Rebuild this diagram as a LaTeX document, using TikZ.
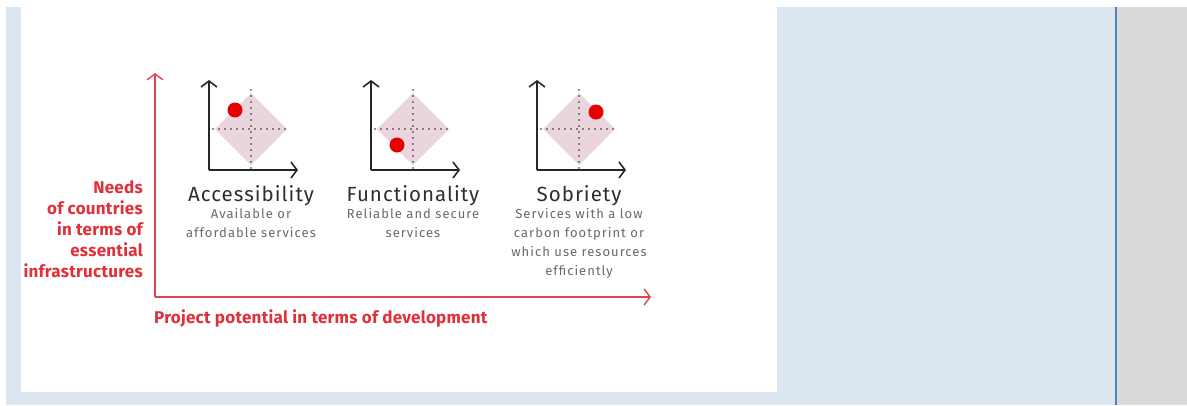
\documentclass[tikz,border=0pt]{standalone}
\usepackage{fontspec}
\setmainfont{Fira Sans}
\newfontfamily\labelfont{Fira Sans Bold}[LetterSpace=1.5]
\newfontfamily\titlefont{Fira Sans}[LetterSpace=5]
\newfontfamily\notefont{Fira Sans}[LetterSpace=8]
\usetikzlibrary{arrows.meta,calc}

\definecolor{pageblue}{HTML}{DCE6F1}
\definecolor{rulerblue}{HTML}{4F81BD}
\definecolor{sidegray}{HTML}{D9D9D9}
\definecolor{axisred}{HTML}{E2434F}
\definecolor{labelred}{HTML}{E0303A}
\definecolor{dotred}{HTML}{E60000}
\definecolor{zonepink}{HTML}{EAD5DF}
\definecolor{titlegray}{HTML}{2E2E2E}
\definecolor{subgray}{HTML}{6A6A6A}

\tikzset{
  mainaxis/.style={draw=axisred, line width=1.4pt,
    -{Straight Barb[length=6pt, width=16pt, line width=1.4pt]}},
  miniaxis/.style={draw=black!85, line width=1.6pt,
    -{Straight Barb[length=6pt, width=16pt, line width=1.6pt]}},
  guide/.style={draw=black!85, line width=1.7pt, line cap=round,
    dash pattern=on 0pt off 6pt},
  zone/.style={fill=zonepink},
  marker/.style={fill=dotred},
  sidelabel/.style={text=labelred, font=\labelfont\fontsize{17}{21}\selectfont,
    align=right, inner sep=0pt},
  baselabel/.style={text=labelred, font=\labelfont\fontsize{17}{18}\selectfont,
    inner sep=0pt, anchor=base west},
  charttitle/.style={text=titlegray, font=\titlefont\fontsize{20.5}{22}\selectfont,
    inner sep=0pt, anchor=base},
  chartnote/.style={text=subgray, font=\notefont\fontsize{13}{19}\selectfont,
    align=center, inner sep=0pt, anchor=north},
}

% one small chart: #1 = name, #2 = origin x, #3 = origin y, #4/#5 = marker offset
\newcommand{\minichart}[5]{%
  \coordinate (#1o) at (#2,#3);
  \coordinate (#1y) at (#2,#3-90);
  \coordinate (#1x) at (#2+89,#3);
  \coordinate (#1c) at (#2+42,#3-41);
  \fill[zone] ($(#1c)+(0,-36)$) -- ($(#1c)+(36,0)$) -- ($(#1c)+(0,36)$) -- ($(#1c)+(-36,0)$) -- cycle;
  \draw[guide] ($(#1c)+(0,-39)$) -- ($(#1c)+(0,39)$);
  \draw[guide] ($(#1c)+(-38,0)$) -- ($(#1c)+(38,0)$);
  \node[marker, circle, minimum size=15pt, inner sep=0pt] (#1dot) at ($(#1o)+(#4,#5)$) {};
  \draw[miniaxis] (#1o) -- (#1y);
  \draw[miniaxis] (#1o) -- (#1x);
}

\begin{document}
\begin{tikzpicture}[x=1pt, y=-1pt]
  \useasboundingbox (0,0) rectangle (1187,405);
  % page backdrop
  \fill[white] (0,0) rectangle (1187,405);
  \fill[pageblue] (6,7) rectangle (1117,405);
  \fill[white] (21,7) rectangle (777,392);
  \fill[sidegray] (1117,7) rectangle (1187,405);
  \draw[rulerblue, line width=2pt] (1116,7) -- (1116,405);

  % main axes
  \coordinate (O) at (155,297);
  \coordinate (Ytop) at (155,73);
  \coordinate (Xend) at (651,297);
  \draw[mainaxis] (O) -- (Ytop);
  \draw[mainaxis] (O) -- (Xend);

  \node[sidelabel, anchor=north east] (needs) at (143,180)
    {Needs\\of countries\\in terms of\\essential\\infrastructures};
  \node[baselabel] (potential) at (154,323) {Project potential in terms of development};

  % three small charts
  \minichart{a}{209}{170}{26}{-60}
  \minichart{b}{371}{170}{26}{-25}
  \minichart{c}{537}{170}{59}{-58}

  \node[charttitle] (acc) at (251,201) {Accessibility};
  \node[chartnote] (accn) at (251,208.5) {Available or\\affordable services};
  \node[charttitle] (fun) at (413,201) {Functionality};
  \node[chartnote] (funn) at (413,208.5) {Reliable and secure\\services};
  \node[charttitle] (sob) at (579,201) {Sobriety};
  \node[chartnote] (sobn) at (579,208.5) {Services with a low\\carbon footprint or\\which use resources\\efficiently};
\end{tikzpicture}
\end{document}
